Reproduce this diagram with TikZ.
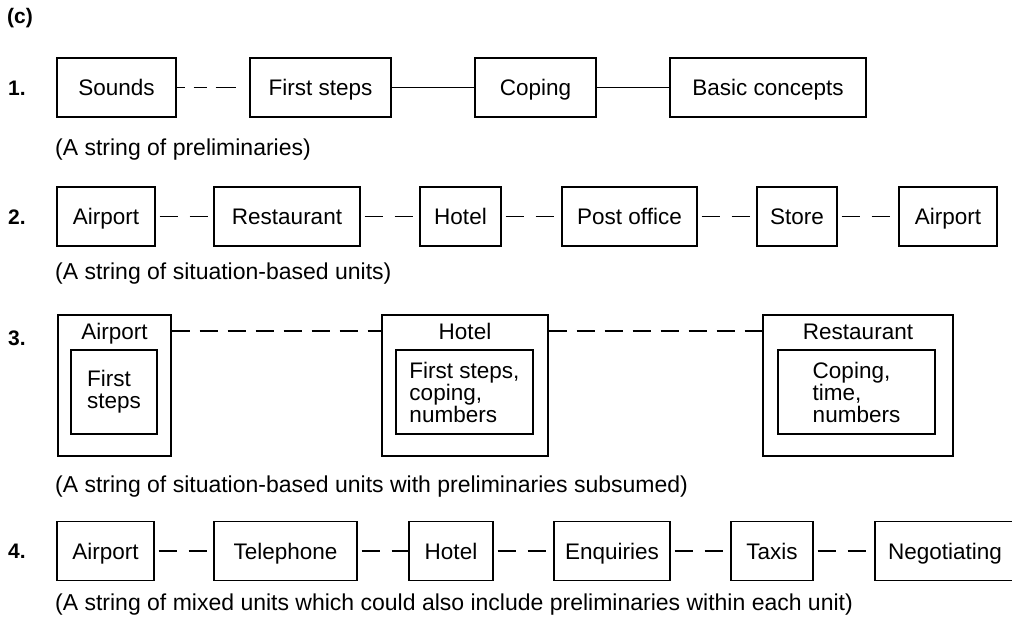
\documentclass[tikz,border=0pt]{standalone}
\usepackage{fontspec}
\setmainfont{Liberation Sans}

\begin{document}
\begin{tikzpicture}[x=1pt,y=-1pt,
  unit/.style={draw,line width=1.1pt,minimum height=59pt,inner sep=0pt,text height=16pt,text depth=0pt,font=\fontsize{22.5}{22}\selectfont},
  outer/.style={draw,line width=1.1pt,minimum height=141pt,inner sep=0pt},
  inner/.style={draw,line width=1.1pt,minimum height=84pt,inner sep=0pt,align=left,font=\fontsize{22.5}{22}\selectfont},
  head/.style={inner sep=0pt,text height=16pt,text depth=0pt,font=\fontsize{22.5}{22}\selectfont},
  caption/.style={anchor=west,inner sep=0pt,font=\fontsize{23}{24}\selectfont},
  num/.style={anchor=west,inner sep=0pt,font=\fontsize{21}{22}\selectfont\bfseries},
  link/.style={line width=1.1pt},
  shortgap/.style={line width=1.1pt,dash pattern=on 0pt off 4pt on 18pt off 12pt on 18pt off 40pt},
  longgap/.style={line width=1.1pt,dash pattern=on 18pt off 10pt}]
  \useasboundingbox (0,0) rectangle (1012,626);
  \node[num] (part) at (7,18) {(c)};

  %string of preliminaries
  \node[num] (n1) at (8,88) {1.};
  \node[unit,minimum width=119pt] (snd) at (116.5,87.5) {Sounds};
  \node[unit,minimum width=141pt] (fst) at (320.5,87.5) {First steps};
  \node[unit,minimum width=121pt] (cop) at (535.5,87.5) {Coping};
  \node[unit,minimum width=196pt] (bas) at (768,87.5) {Basic concepts};
  \draw[link,dash pattern=on 8pt off 9pt on 13pt off 9pt on 20pt off 40pt] (snd.east) -- (fst.west);
  \draw[link] (fst.east) -- (cop.west);
  \draw[link] (cop.east) -- (bas.west);
  \node[caption] (c1) at (55,150) {(A string of preliminaries)};

  %situation-based units
  \node[num] (n2) at (8,217) {2.};
  \node[unit,minimum width=98pt] (air2) at (106,216.5) {Airport};
  \node[unit,minimum width=146pt] (res2) at (287,216.5) {Restaurant};
  \node[unit,minimum width=81pt] (hot2) at (460.5,216.5) {Hotel};
  \node[unit,minimum width=135pt] (pst2) at (629.5,216.5) {Post office};
  \node[unit,minimum width=80pt] (sto2) at (797,216.5) {Store};
  \node[unit,minimum width=98pt] (arr2) at (948,216.5) {Airport};
  \draw[shortgap] (air2.east) -- (res2.west);
  \draw[shortgap] (res2.east) -- (hot2.west);
  \draw[shortgap] (hot2.east) -- (pst2.west);
  \draw[shortgap] (pst2.east) -- (sto2.west);
  \draw[shortgap] (sto2.east) -- (arr2.west);
  \node[caption] (c2) at (55,274) {(A string of situation-based units)};

  %units with preliminaries subsumed
  \node[num] (n3) at (8,338) {3.};
  \node[outer,minimum width=113pt] (air3) at (114.5,385.5) {};
  \node[head] (air3t) at (114.5,331) {Airport};
  \node[inner,minimum width=86pt] (air3in) at (114,392) {First\\steps};
  \node[outer,minimum width=166pt] (hot3) at (465,385.5) {};
  \node[head] (hot3t) at (465,331) {Hotel};
  \node[inner,minimum width=137pt] (hot3in) at (464.5,392) {First steps,\\coping,\\numbers};
  \node[outer,minimum width=190pt] (res3) at (858,385.5) {};
  \node[head] (res3t) at (858,331) {Restaurant};
  \node[inner,minimum width=157pt] (res3in) at (856.5,392) {Coping,\\time,\\numbers};
  \draw[longgap] (air3.east |- air3t) -- (hot3.west |- hot3t);
  \draw[longgap] (hot3.east |- hot3t) -- (res3.west |- res3t);
  \node[caption] (c3) at (55,487) {(A string of situation-based units with preliminaries subsumed)};

  %mixed units
  \node[num] (n4) at (8,551) {4.};
  \node[unit,minimum width=97pt] (air4) at (105.5,551) {Airport};
  \node[unit,minimum width=143pt] (tel4) at (285.5,551) {Telephone};
  \node[unit,minimum width=84pt] (hot4) at (451,551) {Hotel};
  \node[unit,minimum width=116pt] (enq4) at (612,551) {Enquiries};
  \node[unit,minimum width=82pt] (tax4) at (772,551) {Taxis};
  \node[unit,minimum width=140pt] (neg4) at (945,551) {Negotiating};
  \draw[shortgap] (air4.east) -- (tel4.west);
  \draw[shortgap] (tel4.east) -- (hot4.west);
  \draw[shortgap] (hot4.east) -- (enq4.west);
  \draw[shortgap] (enq4.east) -- (tax4.west);
  \draw[shortgap] (tax4.east) -- (neg4.west);
  \node[caption] (c4) at (55,605) {(A string of mixed units which could also include preliminaries within each unit)};
\end{tikzpicture}
\end{document}
